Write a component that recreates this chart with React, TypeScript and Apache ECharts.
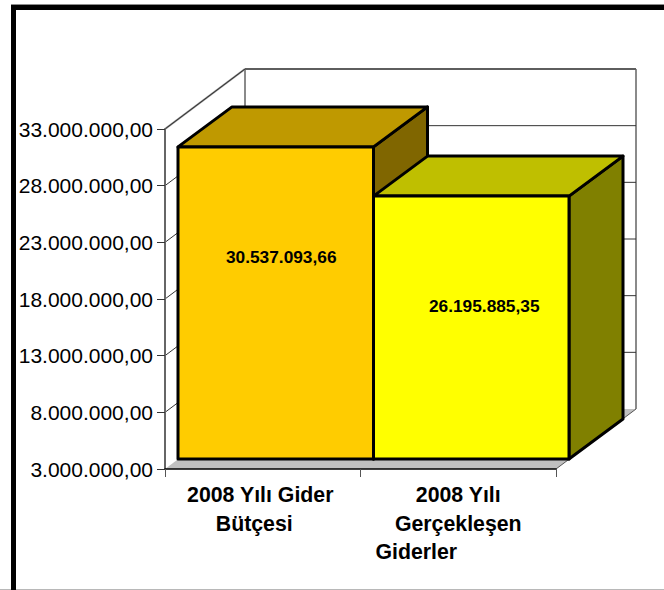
import React, { useEffect, useRef } from "react";
import * as echarts from "echarts";

const categories = ["2008 Yılı Gider Bütçesi", "2008 Yılı Gerçekleşen Giderler"];
const budgetLabelLines = ["2008 Yılı Gider", "Bütçesi"];
const actualLabelLines = ["2008 Yılı", "Gerçekleşen", "Giderler"];
const values = [30537093.66, 26195885.35];
const valueLabels = ["30.537.093,66", "26.195.885,35"];
const tickValues = [3000000, 8000000, 13000000, 18000000, 23000000, 28000000, 33000000];
const frontColors = ["#FFCC00", "#FFFF00"];
const topColors = ["#BF9900", "#BFBF00"];
const sideColors = ["#806600", "#808000"];

const FONT = "'Liberation Sans', Arial, sans-serif";
const WALL_DX = 80;
const WALL_DY = 60;
const BAR_NEAR_DX = 13;
const BAR_NEAR_DY = 10;
const BAR_DX = 54;
const BAR_DY = 40;
const LABEL_DX = [5.5, 13];

function formatTr(v: number): string {
  const s = String(Math.round(v)).replace(/\B(?=(\d{3})+(?!\d))/g, ".");
  return s + ",00";
}

function renderFrame(params: any) {
  const c = params.coordSys;
  const l = c.x, r = c.x + c.width, t = c.y, b = c.y + c.height;
  const gray = "#8A8A8A";
  return {
    type: "group",
    children: [
      { type: "polygon", shape: { points: [[l, b], [r, b], [r + WALL_DX, b - WALL_DY], [l + WALL_DX, b - WALL_DY]] }, style: { fill: "#C0C0C0" } },
      { type: "line", shape: { x1: l, y1: t, x2: l + WALL_DX, y2: t - WALL_DY }, style: { stroke: gray, lineWidth: 2 } },
      { type: "line", shape: { x1: l + WALL_DX, y1: t - WALL_DY, x2: r + WALL_DX, y2: t - WALL_DY }, style: { stroke: gray, lineWidth: 2 } },
      { type: "line", shape: { x1: l + WALL_DX, y1: t - WALL_DY, x2: l + WALL_DX, y2: b - WALL_DY }, style: { stroke: gray, lineWidth: 2 } },
      { type: "line", shape: { x1: r + WALL_DX, y1: t - WALL_DY, x2: r + WALL_DX, y2: b - WALL_DY }, style: { stroke: gray, lineWidth: 2 } },
      { type: "line", shape: { x1: r, y1: b, x2: r + WALL_DX, y2: b - WALL_DY }, style: { stroke: "#555555", lineWidth: 1 } },
    ],
  };
}

function renderGrid(params: any, api: any) {
  const c = params.coordSys;
  const y = api.coord([0, api.value(1)])[1];
  const l = c.x, r = c.x + c.width;
  return {
    type: "group",
    children: [
      { type: "line", shape: { x1: l, y1: y, x2: l + WALL_DX, y2: y - WALL_DY }, style: { stroke: "#333333", lineWidth: 1 } },
      { type: "line", shape: { x1: l + WALL_DX, y1: y - WALL_DY, x2: r + WALL_DX, y2: y - WALL_DY }, style: { stroke: "#333333", lineWidth: 1 } },
    ],
  };
}

function renderBar(params: any, api: any) {
  const i = params.dataIndex;
  const p = api.coord([i, api.value(1)]);
  const base = api.coord([i, tickValues[0]]);
  const w = api.size([1, 0])[0];
  const x0 = p[0] - w / 2 + BAR_NEAR_DX;
  const x1 = p[0] + w / 2 + BAR_NEAR_DX;
  const yT = p[1] - BAR_NEAR_DY;
  const yB = base[1] - BAR_NEAR_DY;
  const line = { stroke: "#000000", lineWidth: 3, lineJoin: "round" };
  return {
    type: "group",
    children: [
      { type: "polygon", shape: { points: [[x1, yT], [x1 + BAR_DX, yT - BAR_DY], [x1 + BAR_DX, yB - BAR_DY], [x1, yB]] }, style: { fill: sideColors[i], ...line } },
      { type: "polygon", shape: { points: [[x0, yT], [x0 + BAR_DX, yT - BAR_DY], [x1 + BAR_DX, yT - BAR_DY], [x1, yT]] }, style: { fill: topColors[i], ...line } },
      { type: "rect", shape: { x: x0, y: yT, width: x1 - x0, height: yB - yT }, style: { fill: frontColors[i], ...line } },
      {
        type: "text",
        style: {
          text: valueLabels[i],
          x: (x0 + x1) / 2 + LABEL_DX[i],
          y: yT + 110,
          align: "center",
          verticalAlign: "middle",
          fill: "#000000",
          font: `bold 17.3px ${FONT}`,
        },
      },
    ],
  };
}

const axisRich = {
  plain: { fontFamily: FONT, fontWeight: "bold", fontSize: 21.3, lineHeight: 28.5, color: "#000" },
  first: { fontFamily: FONT, fontWeight: "bold", fontSize: 21.3, lineHeight: 28.5, color: "#000", padding: [0, 5, 0, 0] },
  second: { fontFamily: FONT, fontWeight: "bold", fontSize: 21.3, lineHeight: 28.5, color: "#000", padding: [0, 17, 0, 0] },
  third: { fontFamily: FONT, fontWeight: "bold", fontSize: 21.3, lineHeight: 28.5, color: "#000", padding: [0, 84, 0, 0] },
};

export default function App() {
  const ref = useRef<HTMLDivElement>(null);
  useEffect(() => {
    document.body.style.margin = "0";
    const chart = echarts.init(ref.current!, null, { renderer: "svg" });
    chart.setOption({
      animation: false,
      backgroundColor: "#FFFFFF",
      grid: { left: 165, top: 129, width: 391, height: 340 },
      xAxis: {
        type: "category",
        data: categories,
        z: 5,
        axisLine: { lineStyle: { color: "#000000", width: 1.5 } },
        axisTick: { show: true, length: 8, lineStyle: { color: "#555555", width: 1 } },
        axisLabel: {
          margin: 12,
          interval: 0,
          align: "center",
          verticalAlign: "top",
          formatter: (v: string) =>
            v === categories[0]
              ? `{first|${budgetLabelLines[0]}}\n{second|${budgetLabelLines[1]}}`
              : `{plain|${actualLabelLines[0]}}\n{plain|${actualLabelLines[1]}}\n{third|${actualLabelLines[2]}}`,
          rich: axisRich,
        },
      },
      yAxis: {
        type: "value",
        min: tickValues[0],
        max: tickValues[tickValues.length - 1],
        z: 5,
        splitLine: { show: false },
        axisLine: { show: true, lineStyle: { color: "#666666", width: 2 } },
        axisTick: { show: true, length: 8, customValues: tickValues, lineStyle: { color: "#333333", width: 1 } },
        axisLabel: {
          margin: 12,
          customValues: tickValues,
          formatter: (v: number) => formatTr(v),
          color: "#000000",
          fontFamily: FONT,
          fontSize: 21,
        },
      },
      graphic: [
        { type: "rect", z: 100, shape: { x: 0, y: 589, width: 664, height: 1 }, style: { fill: "#B8B8B8" } },
        { type: "rect", z: 101, shape: { x: 11, y: 4, width: 653, height: 1 }, style: { fill: "#8C8C8C" } },
        { type: "rect", z: 101, shape: { x: 11, y: 5, width: 653, height: 5 }, style: { fill: "#000000" } },
        { type: "rect", z: 101, shape: { x: 11, y: 5, width: 5, height: 585 }, style: { fill: "#000000" } },
      ],
      series: [
        { type: "custom", silent: true, z: 1, data: [[0, tickValues[0]]], renderItem: renderFrame },
        { type: "custom", silent: true, z: 2, data: tickValues.slice(1).map((v) => [0, v]), renderItem: renderGrid },
        { type: "custom", silent: true, z: 3, data: values.map((v, i) => [i, v]), renderItem: renderBar },
      ],
    });
    return () => chart.dispose();
  }, []);
  return <div ref={ref} style={{ width: 664, height: 590, position: "fixed", left: 0, top: 0 }} />;
}
